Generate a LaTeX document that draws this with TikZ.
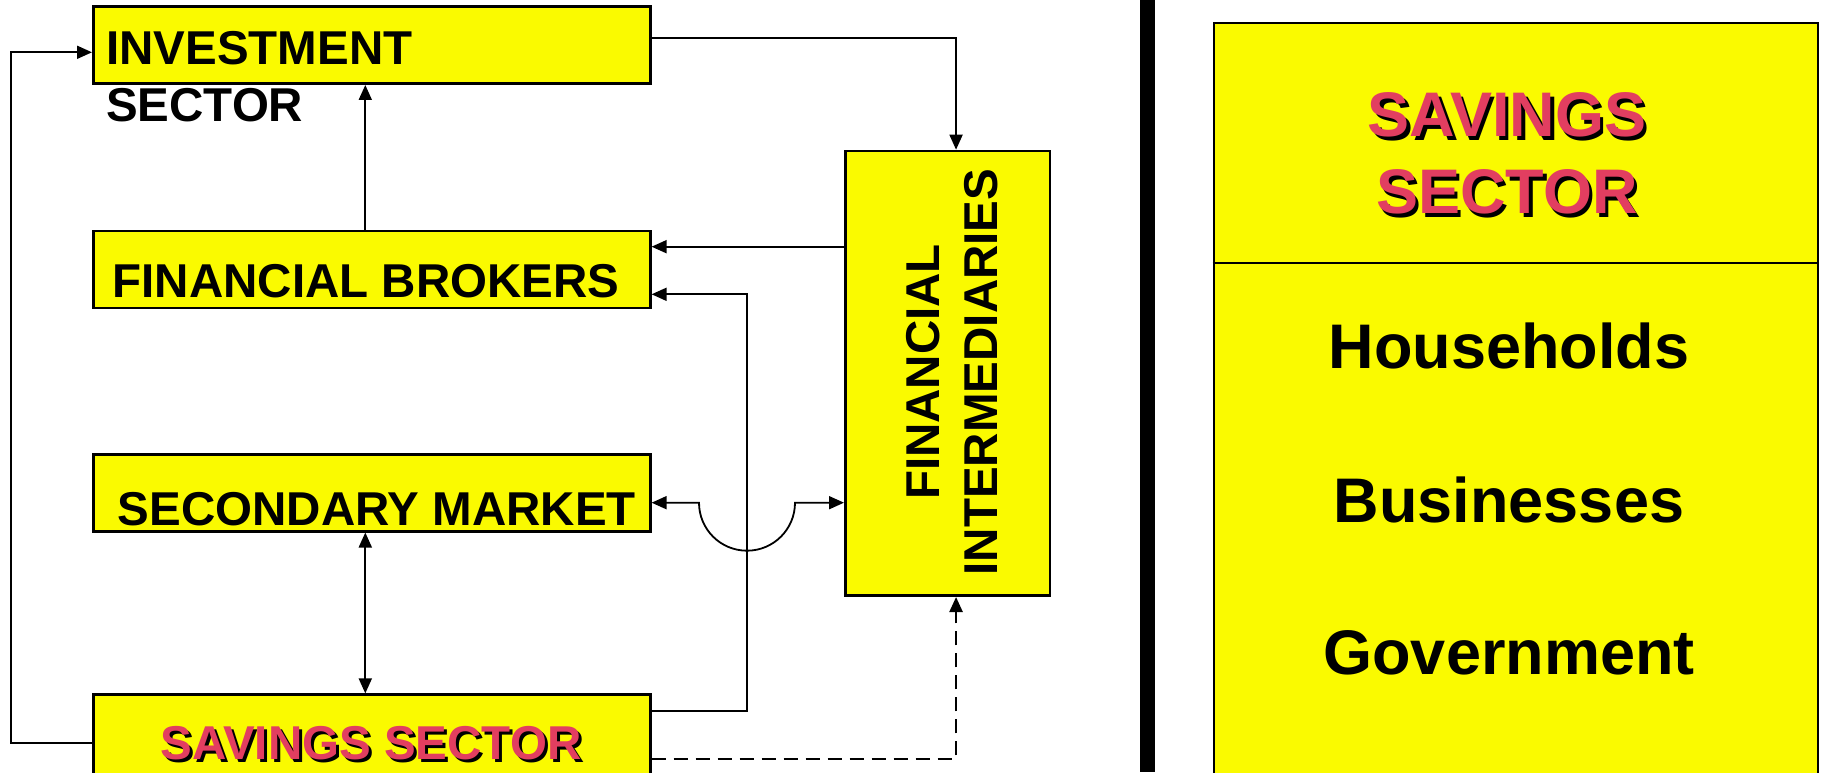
\documentclass[tikz,border=0pt]{standalone}
\usepackage{fontspec}
\setmainfont{Liberation Sans}
\usetikzlibrary{arrows.meta,calc}
\definecolor{boxyellow}{RGB}{250,250,0}
\definecolor{savred}{RGB}{226,62,96}
\begin{document}
\begin{tikzpicture}[x=1pt,y=1pt,
  box/.style={draw=black, line width=2.6pt, fill=boxyellow, inner sep=0pt, anchor=south west},
  conn/.style={line width=1.8pt, -{Triangle[length=15pt,width=13pt]}},
  conntwo/.style={line width=1.8pt, {Triangle[length=15pt,width=13pt]}-{Triangle[length=15pt,width=13pt]}},
  dashconn/.style={line width=2.3pt, dash pattern=on 14pt off 8pt, -{Triangle[length=15pt,width=13pt]}},
  bigtxt/.style={font=\fontsize{47.5}{56.5}\selectfont\bfseries, inner sep=0pt},
  fitxt/.style={font=\fontsize{47.5}{58}\selectfont\bfseries, inner sep=0pt, align=center},
  hugetxt/.style={font=\fontsize{63}{77}\selectfont\bfseries, inner sep=0pt},
]
\useasboundingbox (0,0) rectangle (1823,772);
\clip (0,0) rectangle (1823,772);
\fill[white] (0,0) rectangle (1823,772);

% boxes
\node[box, minimum width=557pt, minimum height=77pt] (inv) at (92,687) {};
\node[box, minimum width=557pt, minimum height=76.8pt] (fb) at (92,462.7) {};
\node[box, minimum width=557pt, minimum height=76.8pt] (sm) at (92,239.5) {};
\node[box, minimum width=557pt, minimum height=106pt] (sav) at (92,-30) {};
\node[box, minimum width=204.5pt, minimum height=444.7pt] (fi) at (844,175) {};
\node[box, line width=2.2pt, minimum width=604.5pt, minimum height=778pt] (rbox) at (1212.5,-30) {};

% helper coordinates
\coordinate (yLoop) at (0,29.3);
\coordinate (yInvIn) at (0,719.7);
\coordinate (xLoop) at (11,0);
\coordinate (yFIFB) at (0,525.3);
\coordinate (ySavFB) at (0,61.3);
\coordinate (yFBin) at (0,477.7);
\coordinate (xJ) at (746.7,0);
\coordinate (ySM) at (0,269.3);
\coordinate (arcL) at (699,269.3);
\coordinate (yDash) at (0,13);
\coordinate (yDiv) at (0,509.3);

% divider in right box
\draw[line width=2.2pt] (rbox.west |- yDiv) -- (rbox.east |- yDiv);
% thick separator bar
\fill[black] (1140,0) rectangle (1155,772);

% connectors
\draw[conn] (sav.west |- yLoop) -| (xLoop |- yInvIn) -- (inv.west |- yInvIn);
\draw[conn] ([yshift=7.5pt]inv.east) -| ([xshift=8.5pt]fi.north);
\draw[conn] ([xshift=-6.5pt]fb.north) -- ([xshift=-6.5pt]inv.south);
\draw[conn] (fi.west |- yFIFB) -- (fb.east |- yFIFB);
\draw[conn] (sav.east |- ySavFB) -| (xJ |- yFBin) -- (fb.east |- yFBin);
\draw[conntwo] (sm.east |- ySM) -- (arcL) arc[start angle=180, end angle=360, radius=48] -- (fi.west |- ySM);
\draw[conntwo] ([xshift=-6.5pt]sm.south) -- ([xshift=-6.5pt]sav.north);
\draw[dashconn] (sav.east |- yDash) -| ([xshift=8.5pt]fi.south);

% texts
\node[bigtxt, anchor=base west] (invt1) at (106,707) {INVESTMENT};
\node[bigtxt, anchor=base west] (invt2) at (106,650.3) {SECTOR};
\node[bigtxt, anchor=base] (fbt) at (366,474) {FINANCIAL BROKERS};
\node[bigtxt, anchor=base] (smt) at (377,246.5) {SECONDARY MARKET};
\node[bigtxt, anchor=base, text=black] (savts) at (374,9.5) {SAVINGS SECTOR};
\node[bigtxt, anchor=base, text=savred] (savt) at (371,12.5) {SAVINGS SECTOR};
\node[fitxt, rotate=90] (fit) at (952,400) {FINANCIAL\\INTERMEDIARIES};

\node[hugetxt, anchor=base, text=black] (rs1s) at (1510.5,631.5) {SAVINGS};
\node[hugetxt, anchor=base, text=savred] (rs1) at (1507,635) {SAVINGS};
\node[hugetxt, anchor=base, text=black] (rs2s) at (1510.5,554.5) {SECTOR};
\node[hugetxt, anchor=base, text=savred] (rs2) at (1507,558) {SECTOR};
\node[hugetxt, anchor=base] (hh) at (1509,403) {Households};
\node[hugetxt, anchor=base] (bu) at (1509,250) {Businesses};
\node[hugetxt, anchor=base] (gov) at (1509,98) {Government};
\end{tikzpicture}
\end{document}
